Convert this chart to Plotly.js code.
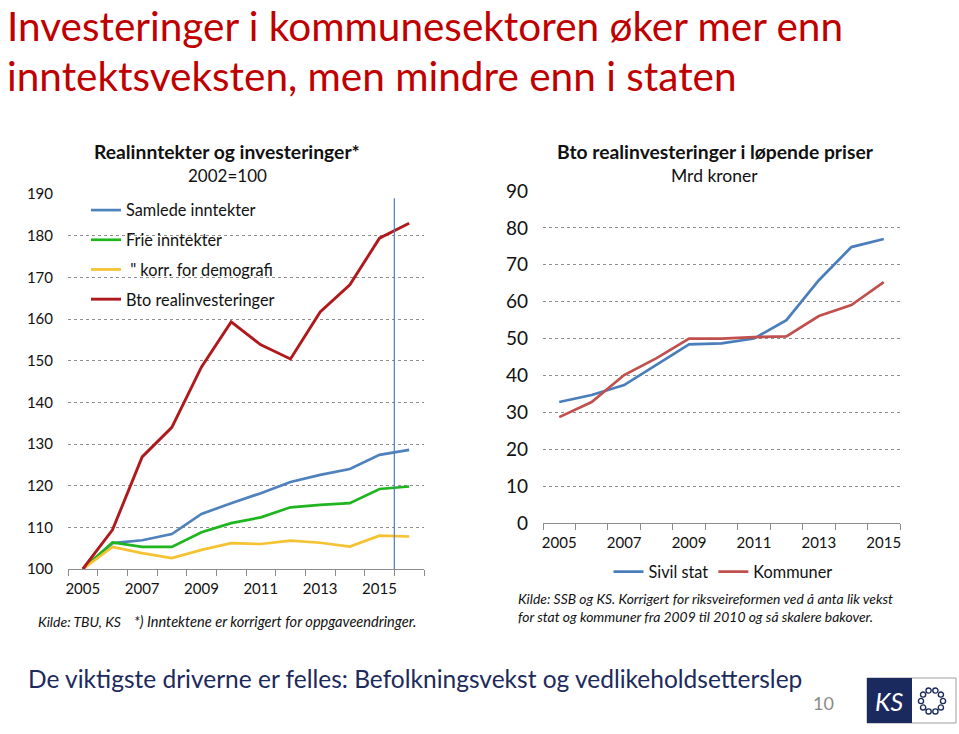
<!DOCTYPE html>
<html>
<head>
<meta charset="utf-8">
<script src="https://cdn.plot.ly/plotly-3.0.1.min.js"></script>
<style>
html,body{margin:0;padding:0;background:#fff;}
#chart{width:959px;height:734px;}
</style>
</head>
<body>
<div id="chart"></div>
<script>
// ---- Data ----
const leftYears = [2005, 2006, 2007, 2008, 2009, 2010, 2011, 2012, 2013, 2014, 2015, 2016];
const samledeInntekter = [100, 106.2, 106.9, 108.4, 113.2, 115.8, 118.2, 120.9, 122.6, 124.0, 127.4, 128.6];
const frieInntekter = [100, 106.4, 105.3, 105.3, 108.8, 111.0, 112.4, 114.8, 115.4, 115.8, 119.2, 119.8];
const korrDemografi = [100, 105.3, 103.8, 102.6, 104.6, 106.2, 106.0, 106.8, 106.3, 105.4, 108.0, 107.8];
const btoRealinvesteringer = [100, 109.4, 126.9, 134.0, 148.5, 159.3, 153.8, 150.4, 161.7, 168.2, 179.4, 183.0];
const leftTickVals = [2005, 2007, 2009, 2011, 2013, 2015];
const leftTickText = ['2005', '2007', '2009', '2011', '2013', '2015'];
const projectionStart = 2015.5;

const rightYears = [2005, 2006, 2007, 2008, 2009, 2010, 2011, 2012, 2013, 2014, 2015];
const sivilStat = [32.8, 34.7, 37.4, 42.8, 48.4, 48.7, 50.0, 55.0, 65.8, 74.8, 77.0];
const kommuner = [28.7, 32.8, 40.1, 44.7, 50.0, 50.0, 50.4, 50.6, 56.1, 59.1, 65.3];
const rightTickVals = [2005, 2007, 2009, 2011, 2013, 2015];
const rightTickText = ['2005', '2007', '2009', '2011', '2013', '2015'];

// ---- helpers (pixel -> paper) ----
const W = 959, H = 734;
const px = x => x / W;
const py = y => 1 - y / H;
const FONT = 'Lato, "Open Sans", sans-serif';

const traces = [
  {x: leftYears, y: samledeInntekter, name: 'Samlede inntekter', type: 'scatter', mode: 'lines',
   line: {color: '#4f81bd', width: 2.7}, xaxis: 'x', yaxis: 'y', legend: 'legend', legendgroup: 'a'},
  {x: leftYears, y: frieInntekter, name: 'Frie inntekter', type: 'scatter', mode: 'lines',
   line: {color: '#1fb51f', width: 2.7}, xaxis: 'x', yaxis: 'y', legend: 'legend', legendgroup: 'b'},
  {x: leftYears, y: korrDemografi, name: ' " korr. for demografi', type: 'scatter', mode: 'lines',
   line: {color: '#f5c232', width: 2.7}, xaxis: 'x', yaxis: 'y', legend: 'legend', legendgroup: 'c'},
  {x: leftYears, y: btoRealinvesteringer, name: 'Bto realinvesteringer', type: 'scatter', mode: 'lines',
   line: {color: '#b0191c', width: 2.9}, xaxis: 'x', yaxis: 'y', legend: 'legend', legendgroup: 'd'},
  {x: rightYears, y: sivilStat, name: 'Sivil stat', type: 'scatter', mode: 'lines',
   line: {color: '#4a7ebb', width: 2.7}, xaxis: 'x2', yaxis: 'y2', legend: 'legend2'},
  {x: rightYears, y: kommuner, name: 'Kommuner', type: 'scatter', mode: 'lines',
   line: {color: '#c0504d', width: 2.7}, xaxis: 'x2', yaxis: 'y2', legend: 'legend2'}
];

const gridStyle = {showgrid: true, gridcolor: '#8f8f8f', griddash: 'dot', gridwidth: 1, zeroline: false, showline: false, ticks: ''};
const xStyle = {showgrid: false, zeroline: false, showline: true, linecolor: '#8c8c8c', linewidth: 1,
  ticks: '', tickfont: {family: FONT, size: 15, color: '#111'}};

const layout = {
  width: W, height: H,
  margin: {l: 0, r: 0, t: 0, b: 0},
  paper_bgcolor: '#fff', plot_bgcolor: '#fff',
  font: {family: FONT, color: '#111'},
  showlegend: true,
  xaxis: Object.assign({}, xStyle, {
    domain: [px(68), px(424)], anchor: 'y', range: [2004.5, 2016.5],
    tickmode: 'array', tickvals: leftTickVals, ticktext: leftTickText, ticklabelstandoff: 6,
    minor: {ticks: 'outside', ticklen: 6, tickcolor: '#8c8c8c', tick0: 2004.5, dtick: 1, showgrid: false}
  }),
  yaxis: Object.assign({}, gridStyle, {
    domain: [py(569), py(194)], anchor: 'x', range: [100, 190], dtick: 10, tick0: 100,
    tickfont: {family: FONT, size: 15, color: '#111'}, ticklabelstandoff: 14
  }),
  xaxis2: Object.assign({}, xStyle, {
    domain: [px(543), px(900)], anchor: 'y2', range: [2004.5, 2015.5],
    tickmode: 'array', tickvals: rightTickVals, ticktext: rightTickText, ticklabelstandoff: 6,
    minor: {ticks: 'outside', ticklen: 6, tickcolor: '#8c8c8c', tick0: 2004.5, dtick: 1, showgrid: false}
  }),
  yaxis2: Object.assign({}, gridStyle, {
    domain: [py(523), py(191)], anchor: 'x2', range: [0, 90], dtick: 10, tick0: 0,
    tickfont: {family: FONT, size: 19, color: '#111'}, ticklabelstandoff: 14
  }),
  legend: {
    x: px(86), y: py(193), xanchor: 'left', yanchor: 'top', orientation: 'v',
    bgcolor: 'rgba(0,0,0,0)', borderwidth: 0, traceorder: 'grouped', tracegroupgap: 5.5,
    font: {family: FONT, size: 16.3, color: '#111'}, itemwidth: 30
  },
  legend2: {
    x: px(723), y: py(572), xanchor: 'center', yanchor: 'middle', orientation: 'h',
    bgcolor: 'rgba(0,0,0,0)', borderwidth: 0,
    font: {family: FONT, size: 16.3, color: '#111'}, itemwidth: 30
  },
  shapes: [
    {type: 'line', xref: 'x', yref: 'y', x0: projectionStart, x1: projectionStart, y0: 100, y1: 189,
     line: {color: '#4a7ebb', width: 1.2}, layer: 'above'},
    // KS logo
    {type: 'rect', xref: 'paper', yref: 'paper', x0: px(867), x1: px(956), y0: py(723), y1: py(678),
     line: {color: '#a0a0a0', width: 1}, fillcolor: '#fff'},
    {type: 'rect', xref: 'paper', yref: 'paper', x0: px(867), x1: px(912), y0: py(723), y1: py(678),
     line: {width: 0}, fillcolor: '#1b2a5e'}
  ],
  annotations: [
    {text: 'Investeringer i kommunesektoren øker mer enn', x: px(5), y: py(25), xref: 'paper', yref: 'paper',
     xanchor: 'left', yanchor: 'middle', showarrow: false, font: {family: FONT, size: 40.5, color: '#c00000'}},
    {text: 'inntektsveksten, men mindre enn i staten', x: px(5), y: py(76), xref: 'paper', yref: 'paper',
     xanchor: 'left', yanchor: 'middle', showarrow: false, font: {family: FONT, size: 40.5, color: '#c00000'}},
    {text: '<b>Realinntekter og investeringer*</b>', x: px(227), y: py(152), xref: 'paper', yref: 'paper',
     xanchor: 'center', yanchor: 'middle', showarrow: false, font: {family: FONT, size: 19.3, color: '#111'}},
    {text: '2002=100', x: px(227), y: py(175), xref: 'paper', yref: 'paper',
     xanchor: 'center', yanchor: 'middle', showarrow: false, font: {family: FONT, size: 17, color: '#111'}},
    {text: '<b>Bto realinvesteringer i løpende priser</b>', x: px(715), y: py(152), xref: 'paper', yref: 'paper',
     xanchor: 'center', yanchor: 'middle', showarrow: false, font: {family: FONT, size: 19.3, color: '#111'}},
    {text: 'Mrd kroner', x: px(714), y: py(175), xref: 'paper', yref: 'paper',
     xanchor: 'center', yanchor: 'middle', showarrow: false, font: {family: FONT, size: 17.5, color: '#111'}},
    {text: '<i>Kilde: TBU, KS</i>', x: px(36), y: py(621), xref: 'paper', yref: 'paper',
     xanchor: 'left', yanchor: 'middle', showarrow: false, font: {family: FONT, size: 14, color: '#111'}},
    {text: '<i>*) Inntektene er korrigert for oppgaveendringer.</i>', x: px(132), y: py(621), xref: 'paper', yref: 'paper',
     xanchor: 'left', yanchor: 'middle', showarrow: false, font: {family: FONT, size: 14.6, color: '#111'}},
    {text: '<i>Kilde: SSB og KS. Korrigert for riksveireformen ved å anta lik vekst<br>for stat og kommuner fra 2009 til 2010 og så skalere bakover.</i>',
     x: px(516), y: py(607), xref: 'paper', yref: 'paper', align: 'left',
     xanchor: 'left', yanchor: 'middle', showarrow: false, font: {family: FONT, size: 13.9, color: '#111'}},
    {text: 'De viktigste driverne er felles: Befolkningsvekst og vedlikeholdsetterslep', x: px(26), y: py(678), xref: 'paper', yref: 'paper',
     xanchor: 'left', yanchor: 'middle', showarrow: false, font: {family: FONT, size: 24.5, color: '#1c2a5c'}},
    {text: '10', x: px(823), y: py(703), xref: 'paper', yref: 'paper',
     xanchor: 'center', yanchor: 'middle', showarrow: false, font: {family: FONT, size: 18, color: '#8a8a8a'}},
    {text: '<i>KS</i>', x: px(889), y: py(701), xref: 'paper', yref: 'paper',
     xanchor: 'center', yanchor: 'middle', showarrow: false, font: {family: FONT, size: 25, color: '#fff'}}
  ]
};

// ring of links in the logo (decoration)
const ringN = 10;
for (let i = 0; i < ringN; i++) {
  const a = 2 * Math.PI * i / ringN;
  const cx = 932 + 11 * Math.cos(a), cy = 701 + 11 * Math.sin(a);
  layout.shapes.push({type: 'circle', xref: 'paper', yref: 'paper',
    x0: px(cx - 2.6), x1: px(cx + 2.6), y0: py(cy + 2.6), y1: py(cy - 2.6),
    line: {color: '#1b2a5e', width: 1.4}, fillcolor: 'rgba(0,0,0,0)'});
}

Plotly.newPlot('chart', traces, layout, {displayModeBar: false, staticPlot: true});
</script>
</body>
</html>
